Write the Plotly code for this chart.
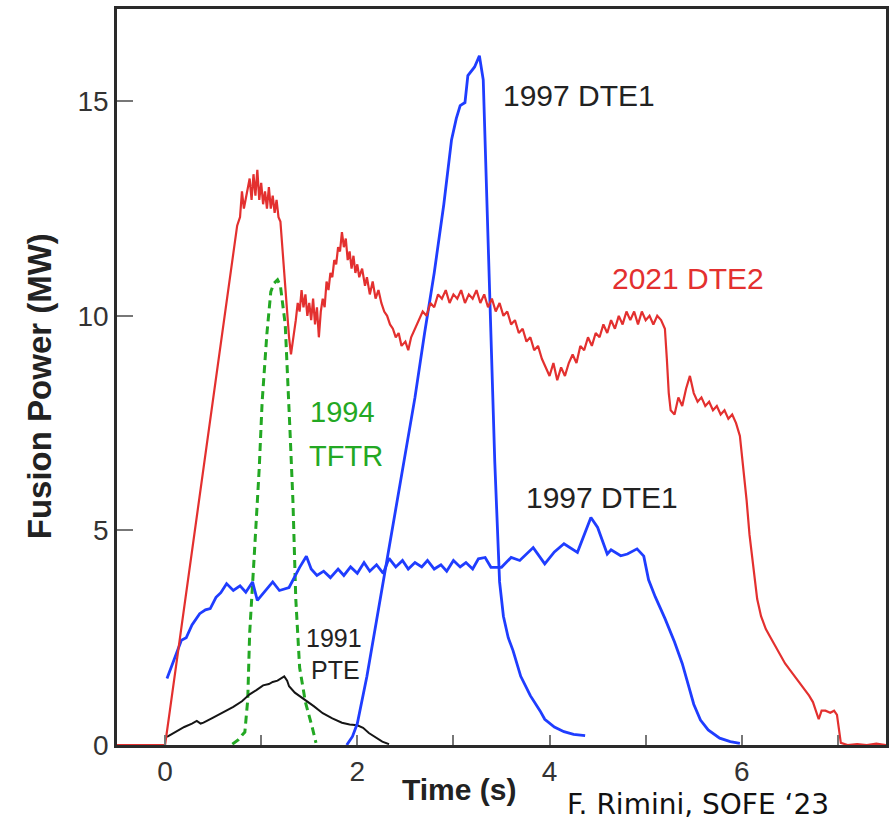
import plotly.graph_objects as go

# ---- data ----
red_t = [-0.5, 0.0, 0.05, 0.1, 0.15, 0.2, 0.25, 0.3, 0.35, 0.4, 0.45, 0.5, 0.55, 0.6, 0.65, 0.7, 0.75, 0.78,
         0.8, 0.82, 0.85, 0.88, 0.9, 0.92, 0.94, 0.96, 0.98, 1.0, 1.02, 1.04, 1.06, 1.08, 1.1, 1.12, 1.14, 1.16,
         1.18, 1.2, 1.23, 1.26, 1.29, 1.31, 1.33, 1.36, 1.38, 1.4, 1.42, 1.44, 1.46, 1.48, 1.5, 1.52, 1.54, 1.56,
         1.58, 1.6, 1.62, 1.64, 1.66, 1.68, 1.7, 1.72, 1.74, 1.76, 1.78, 1.8, 1.82, 1.84, 1.86, 1.88, 1.9, 1.92,
         1.94, 1.96, 1.98, 2.0, 2.02, 2.05, 2.08, 2.1, 2.13, 2.16, 2.19, 2.22, 2.25, 2.28, 2.31, 2.34, 2.37, 2.4,
         2.43, 2.46, 2.5, 2.53, 2.56, 2.6, 2.64, 2.68, 2.72, 2.76, 2.8, 2.84, 2.88, 2.92, 2.96, 3.0, 3.04, 3.08,
         3.12, 3.16, 3.2, 3.24, 3.28, 3.32, 3.36, 3.4, 3.44, 3.48, 3.52, 3.56, 3.6, 3.64, 3.68, 3.72, 3.76, 3.8,
         3.84, 3.88, 3.92, 3.96, 4.0, 4.04, 4.08, 4.12, 4.16, 4.2, 4.24, 4.28, 4.32, 4.36, 4.4, 4.44, 4.48, 4.52,
         4.56, 4.6, 4.64, 4.68, 4.72, 4.76, 4.8, 4.84, 4.88, 4.92, 4.96, 5.0, 5.04, 5.08, 5.12, 5.16, 5.2, 5.22,
         5.24, 5.26, 5.3, 5.34, 5.38, 5.42, 5.46, 5.5, 5.54, 5.58, 5.62, 5.66, 5.7, 5.74, 5.78, 5.82, 5.86, 5.9,
         5.94, 5.98, 6.02, 6.05, 6.08, 6.12, 6.16, 6.2, 6.25, 6.3, 6.35, 6.4, 6.45, 6.5, 6.55, 6.6, 6.65, 6.7,
         6.74, 6.78, 6.8, 6.83, 6.87, 6.92, 6.96, 6.99, 7.01, 7.03, 7.1, 7.2, 7.3, 7.4, 7.5]
red_p = [0.0, 0.0, 0.8, 1.6, 2.4, 3.3, 4.1, 4.9, 5.7, 6.4, 7.2, 8.0, 8.8, 9.7, 10.5, 11.3, 12.1, 12.3,
         12.9, 12.5, 12.9, 13.2, 12.7, 13.3, 12.8, 13.4, 12.7, 13.1, 12.6, 12.9, 12.5, 13.0, 12.5, 12.8, 12.4, 12.7,
         12.3, 12.2, 11.3, 10.3, 9.5, 9.1, 9.4, 9.9, 10.3, 10.1, 10.6, 10.2, 10.5, 10.0, 10.3, 9.9, 10.4, 9.8,
         10.2, 9.5, 10.1, 10.4, 10.2, 10.8, 10.6, 11.0, 10.9, 11.3, 11.2, 11.6, 11.5, 11.95, 11.6, 11.8, 11.3, 11.5,
         11.1, 11.4, 11.0, 11.2, 10.9, 11.1, 10.7, 10.9, 10.5, 10.8, 10.4, 10.6, 10.3, 10.1, 10.0, 9.8, 9.7, 9.5,
         9.6, 9.3, 9.4, 9.2, 9.5, 9.7, 9.9, 10.1, 10.0, 10.3, 10.2, 10.5, 10.4, 10.6, 10.3, 10.5, 10.4, 10.6,
         10.3, 10.5, 10.4, 10.6, 10.3, 10.5, 10.2, 10.4, 10.1, 10.3, 10.0, 10.1, 9.8, 9.9, 9.6, 9.7, 9.4, 9.5,
         9.2, 9.3, 9.0, 8.8, 8.6, 8.9, 8.5, 8.8, 8.6, 8.9, 9.1, 8.9, 9.3, 9.2, 9.5, 9.3, 9.6, 9.5,
         9.8, 9.6, 9.9, 9.7, 10.0, 9.8, 10.1, 9.9, 10.1, 9.8, 10.1, 9.9, 10.0, 9.8, 10.0, 9.9, 9.7, 9.0,
         8.2, 7.8, 7.7, 8.1, 7.9, 8.3, 8.6, 8.2, 8.0, 8.1, 7.9, 8.0, 7.8, 7.9, 7.7, 7.8, 7.6, 7.7,
         7.5, 7.2, 6.4, 5.7, 4.9, 4.1, 3.4, 3.0, 2.7, 2.5, 2.3, 2.1, 1.9, 1.75, 1.6, 1.45, 1.3, 1.15,
         1.0, 0.7, 0.6, 0.8, 0.8, 0.75, 0.8, 0.7, 0.3, 0.05, 0.0, 0.02, 0.0, 0.03, 0.0]

blue_hi_t = [1.89, 1.95, 2.0, 2.1, 2.2, 2.3, 2.4, 2.5, 2.6, 2.7, 2.8, 2.9, 2.98, 3.03, 3.07, 3.12, 3.15, 3.22,
             3.27, 3.31, 3.33, 3.38, 3.43, 3.48, 3.52, 3.57, 3.62, 3.7, 3.8, 3.9, 3.95, 4.05, 4.15, 4.25, 4.37]
blue_hi_p = [0.0, 0.2, 0.5, 1.6, 2.9, 4.2, 5.5, 6.8, 8.1, 9.6, 11.0, 12.6, 14.1, 14.6, 14.9, 14.97, 15.6, 15.8,
             16.06, 15.5, 14.1, 10.5, 6.6, 3.8, 3.0, 2.5, 2.2, 1.6, 1.15, 0.8, 0.6, 0.42, 0.31, 0.25, 0.22]

blue_lo_t = [0.02, 0.08, 0.13, 0.17, 0.22, 0.28, 0.36, 0.42, 0.47, 0.53, 0.58, 0.64, 0.71, 0.78, 0.84, 0.91,
             0.96, 1.05, 1.12, 1.19, 1.29, 1.40, 1.47, 1.52, 1.58, 1.65, 1.72, 1.8, 1.86, 1.93, 2.0, 2.07, 2.13,
             2.2, 2.27, 2.33, 2.4, 2.47, 2.53, 2.6, 2.67, 2.73, 2.8, 2.87, 2.93, 3.0, 3.07, 3.13, 3.2, 3.26, 3.33,
             3.39, 3.5, 3.6, 3.69, 3.83, 3.95, 4.05, 4.15, 4.29, 4.43, 4.5, 4.6, 4.64, 4.74, 4.81, 4.91, 4.98,
             5.03, 5.1, 5.2, 5.3, 5.38, 5.45, 5.5, 5.57, 5.65, 5.77, 5.88, 5.98]
blue_lo_p = [1.55, 1.9, 2.2, 2.44, 2.5, 2.8, 3.06, 3.15, 3.18, 3.44, 3.55, 3.76, 3.6, 3.71, 3.56, 3.8,
             3.37, 3.6, 3.8, 3.6, 3.67, 4.14, 4.4, 4.1, 3.95, 4.05, 3.9, 4.1, 3.95, 4.15, 4.0, 4.25, 4.05,
             4.2, 4.0, 4.35, 4.15, 4.3, 4.1, 4.25, 4.15, 4.3, 4.1, 4.2, 4.05, 4.3, 4.15, 4.25, 4.1, 4.34, 4.37,
             4.14, 4.14, 4.37, 4.3, 4.6, 4.22, 4.5, 4.69, 4.49, 5.3, 5.07, 4.45, 4.55, 4.41, 4.45, 4.57, 4.4,
             3.85, 3.45, 2.95, 2.4, 1.9, 1.35, 0.95, 0.58, 0.35, 0.16, 0.08, 0.04]

green_t = [0.70, 0.76, 0.80, 0.83, 0.86, 0.88, 0.93, 0.98, 1.01, 1.06, 1.10, 1.13, 1.17, 1.20, 1.25, 1.28,
           1.30, 1.33, 1.36, 1.40, 1.46, 1.53, 1.57]
green_p = [0.02, 0.12, 0.23, 0.3, 1.05, 2.6, 4.5, 6.46, 8.0, 9.6, 10.56, 10.75, 10.84, 10.7, 9.8, 8.5,
           7.3, 5.7, 3.4, 1.8, 1.0, 0.42, 0.05]

black_t = [0.02, 0.1, 0.2, 0.28, 0.33, 0.37, 0.4, 0.5, 0.6, 0.71, 0.8, 0.88, 0.95, 1.02, 1.08, 1.12, 1.17,
           1.21, 1.24, 1.27, 1.29, 1.35, 1.47, 1.55, 1.64, 1.74, 1.84, 1.92, 2.0, 2.06, 2.12, 2.19, 2.26, 2.33]
black_p = [0.19, 0.3, 0.42, 0.5, 0.56, 0.5, 0.52, 0.64, 0.76, 0.89, 1.02, 1.18, 1.28, 1.39, 1.42, 1.47, 1.5,
           1.56, 1.6, 1.5, 1.37, 1.22, 1.04, 0.9, 0.74, 0.62, 0.52, 0.48, 0.46, 0.4, 0.28, 0.17, 0.08, 0.02]

x_tickvals = [0, 1, 2, 3, 4, 5, 6, 7]
x_ticktext = ["0", "", "2", "", "4", "", "6", ""]
y_tickvals = [0, 5, 10, 15]
y_ticktext = ["0", "5", "10", "15"]

RED = "#e3302f"
BLUE = "#1f3dff"
GREEN = "#23a823"
BLACK = "#151515"
FONT = "Liberation Sans, Arial, sans-serif"

fig = go.Figure()
fig.add_trace(go.Scatter(x=green_t, y=green_p, mode="lines",
                         line=dict(color=GREEN, width=3, dash="8px,5px")))
fig.add_trace(go.Scatter(x=black_t, y=black_p, mode="lines", line=dict(color=BLACK, width=2)))
fig.add_trace(go.Scatter(x=blue_lo_t, y=blue_lo_p, mode="lines", line=dict(color=BLUE, width=2.8)))
fig.add_trace(go.Scatter(x=blue_hi_t, y=blue_hi_p, mode="lines", line=dict(color=BLUE, width=2.8)))
fig.add_trace(go.Scatter(x=red_t, y=red_p, mode="lines", line=dict(color=RED, width=2.2)))

annots = [
    dict(x=4.31, y=15.14, text="1997 DTE1", color="#222222", size=30),
    dict(x=5.44, y=10.87, text="2021 DTE2", color=RED, size=30),
    dict(x=1.85, y=7.75, text="1994", color=GREEN, size=29),
    dict(x=1.88, y=6.73, text="TFTR", color=GREEN, size=29),
    dict(x=4.55, y=5.77, text="1997 DTE1", color="#222222", size=30),
    dict(x=1.76, y=2.5, text="1991", color="#222222", size=25),
    dict(x=1.77, y=1.75, text="PTE", color="#222222", size=25),
]
for a in annots:
    fig.add_annotation(x=a["x"], y=a["y"], xref="x", yref="y", text=a["text"], showarrow=False,
                       font=dict(family=FONT, size=a["size"], color=a["color"]),
                       xanchor="center", yanchor="middle")

fig.add_annotation(x=460, y=790, text="<b>Time (s)</b>", showarrow=False,
                   font=dict(family=FONT, size=30, color="#222222"))
fig.add_annotation(text="<b>Fusion Power (MW)</b>", x=40, y=385, showarrow=False, textangle=-90,
                   font=dict(family=FONT, size=33, color="#222222"))
fig.add_annotation(text="F. Rimini, SOFE ‘23", x=700, y=805, showarrow=False,
                   font=dict(family="DejaVu Sans", size=28, color="#111111"))

# convert pixel-positioned annotations (last three) to paper coords
L, R, T, B = 117, 6, 7, 76
W, H = 895, 821
pw, ph = W - L - R, H - T - B
for ann in fig.layout.annotations[-3:]:
    px, py = ann.x, ann.y
    ann.xref = "paper"
    ann.yref = "paper"
    ann.x = (px - L) / pw
    ann.y = 1 - (py - T) / ph
    ann.xanchor = "center"
    ann.yanchor = "middle"

fig.update_layout(
    width=W, height=H,
    margin=dict(l=L, r=R, t=T, b=B),
    paper_bgcolor="white", plot_bgcolor="white",
    showlegend=False,
    font=dict(family=FONT),
)
fig.update_xaxes(range=[-0.5, 7.5], tickvals=x_tickvals, ticktext=x_ticktext,
                 ticks="inside", ticklen=10, tickwidth=1.5, tickcolor="#777777",
                 showline=True, linewidth=2.5, linecolor="#2a2a2a", mirror=True,
                 showgrid=False, zeroline=False,
                 tickfont=dict(family=FONT, size=28, color="#333333"))
fig.update_yaxes(range=[0, 17.15], tickvals=y_tickvals, ticktext=y_ticktext,
                 ticks="inside", ticklen=16, tickwidth=1.5, tickcolor="#777777",
                 showline=True, linewidth=2.5, linecolor="#2a2a2a", mirror=True,
                 showgrid=False, zeroline=False,
                 tickfont=dict(family=FONT, size=28, color="#333333"))

fig.write_html("out.html")
